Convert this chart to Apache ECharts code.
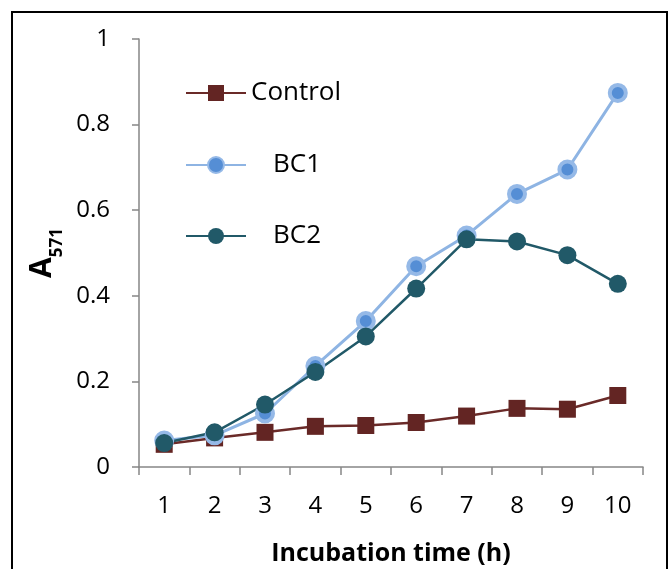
<!DOCTYPE html>
<html>
<head>
<meta charset="utf-8">
<script src="https://cdn.jsdelivr.net/npm/echarts@6/dist/echarts.min.js"></script>
<style>
html,body{margin:0;padding:0;background:#fff;}
#c{width:670px;height:569px;}
</style>
</head>
<body>
<div id="c"></div>
<script>
var categories = ['1','2','3','4','5','6','7','8','9','10'];
var controlValues = [0.053, 0.068, 0.081, 0.095, 0.097, 0.104, 0.119, 0.137, 0.135, 0.167];
var bc1Values = [0.062, 0.074, 0.125, 0.236, 0.341, 0.469, 0.541, 0.638, 0.695, 0.874];
var bc2Values = [0.056, 0.081, 0.146, 0.222, 0.305, 0.417, 0.532, 0.527, 0.495, 0.428];
var yTicks = [0, 0.2, 0.4, 0.6, 0.8, 1];
var seriesNames = ['Control', 'BC1', 'BC2'];

var chart = echarts.init(document.getElementById('c'), null, {renderer: 'canvas'});
var font = '"Open Sans", Lato, sans-serif';

function makeLegend(name, top, pad) {
  return {
    orient: 'vertical',
    left: 185,
    top: top,
    padding: 0,
    itemWidth: 60,
    itemHeight: 20,
    data: [name],
    formatter: function (n) { return '{p|' + n + '}'; },
    textStyle: {
      fontFamily: font, fontSize: 26, color: '#000', lineHeight: 20,
      rich: {p: {fontFamily: font, fontSize: 26, color: '#000', padding: [0, 0, 0, pad], lineHeight: 20}}
    }
  };
}

chart.setOption({
  animation: false,
  backgroundColor: '#ffffff',
  graphic: [{
    type: 'rect',
    shape: {x: 12, y: 12, width: 655, height: 600},
    style: {fill: 'none', stroke: '#000', lineWidth: 2},
    silent: true
  }],
  grid: {left: 139, right: 27, top: 39, bottom: 102, outerBoundsMode: 'none', containLabel: false},
  legend: [
    makeLegend(seriesNames[0], 80, 0),
    makeLegend(seriesNames[1], 152, 22),
    makeLegend(seriesNames[2], 223, 22)
  ],
  xAxis: {
    type: 'category',
    data: categories,
    boundaryGap: true,
    name: 'Incubation time (h)',
    nameLocation: 'middle',
    nameGap: 74,
    nameTextStyle: {fontFamily: font, fontSize: 25, fontWeight: 'bold', color: '#000'},
    axisLine: {lineStyle: {color: '#868686', width: 1.5}},
    axisTick: {show: true, alignWithLabel: false, length: 8, lineStyle: {color: '#868686', width: 1.5}},
    axisLabel: {fontFamily: font, fontSize: 24, color: '#000', margin: 27},
    splitLine: {show: false}
  },
  yAxis: {
    type: 'value',
    min: 0, max: 1, interval: 0.2,
    name: '{a|A}{s|571}',
    nameLocation: 'middle',
    nameGap: 80,
    nameRotate: 90,
    nameTextStyle: {
      rich: {
        a: {fontFamily: font, fontSize: 30, fontWeight: 'bold', color: '#000', verticalAlign: 'bottom', lineHeight: 30},
        s: {fontFamily: font, fontSize: 17, fontWeight: 'bold', color: '#000', verticalAlign: 'bottom', lineHeight: 18, padding: [0, 0, -8, 0]}
      }
    },
    axisLine: {show: true, lineStyle: {color: '#868686', width: 1.5}},
    axisTick: {show: true, length: 7, lineStyle: {color: '#868686', width: 1.5}},
    axisLabel: {
      fontFamily: font, fontSize: 24, color: '#000', margin: 29,
      formatter: function (v) {
        for (var i = 0; i < yTicks.length; i++) { if (Math.abs(yTicks[i] - v) < 1e-9) return String(yTicks[i]); }
        return '';
      }
    },
    splitLine: {show: false}
  },
  series: [
    {
      name: seriesNames[0], type: 'line', data: controlValues,
      symbol: 'rect', symbolSize: 17,
      lineStyle: {color: '#6A2A28', width: 2.5},
      itemStyle: {color: '#632523'}
    },
    {
      name: seriesNames[1], type: 'line', data: bc1Values,
      symbol: 'circle', symbolSize: 16,
      lineStyle: {color: '#8EB4E3', width: 3},
      itemStyle: {color: '#558ED5', borderColor: '#95B9E7', borderWidth: 4}
    },
    {
      name: seriesNames[2], type: 'line', data: bc2Values,
      symbol: 'circle', symbolSize: 18,
      lineStyle: {color: '#215968', width: 2.5},
      itemStyle: {color: '#215968'}
    }
  ]
});
</script>
</body>
</html>
